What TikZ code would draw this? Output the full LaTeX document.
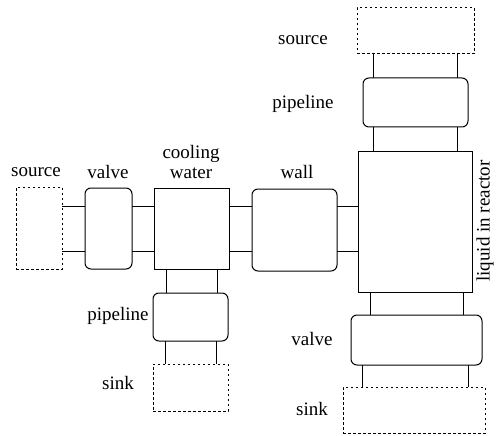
\documentclass[tikz,border=0pt]{standalone}
\usepackage{fontspec}
\setmainfont{Liberation Serif}
\begin{document}
\begin{tikzpicture}[x=1pt,y=-1pt,
  every node/.style={inner sep=0pt,outer sep=0pt},
  solid box/.style={draw,line width=1pt},
  rbox/.style={draw,line width=1pt,rounded corners=6pt},
  dbox/.style={draw,line width=1pt,dash pattern=on 2.5pt off 2.5pt},
  pipe/.style={line width=1pt},
  lbl/.style={font=\fontsize{19}{21}\selectfont,align=center}]
\useasboundingbox (0,0) rectangle (496,436);
% nodes
\node[dbox,minimum width=46pt,minimum height=82pt] (src1) at (39,228) {};
\node[rbox,minimum width=47pt,minimum height=81pt] (valve1) at (108.5,228.5) {};
\node[solid box,minimum width=75pt,minimum height=81pt] (cool) at (191.5,228.5) {};
\node[rbox,minimum width=85pt,minimum height=82pt] (wall) at (294.5,230) {};
\node[solid box,minimum width=114pt,minimum height=141pt] (reactor) at (415,221.5) {};
\node[dbox,minimum width=117pt,minimum height=46pt] (src2) at (415.5,31) {};
\node[rbox,minimum width=105pt,minimum height=49pt] (pipe2) at (415.5,102.5) {};
\node[rbox,minimum width=131pt,minimum height=50pt] (valve2) at (416.5,340) {};
\node[dbox,minimum width=142pt,minimum height=46pt] (sink2) at (414,410) {};
\node[rbox,minimum width=75pt,minimum height=48pt] (pipe1) at (190.5,317) {};
\node[dbox,minimum width=75pt,minimum height=47pt] (sink1) at (190.5,387.5) {};
% horizontal pipes
\foreach \a/\b in {src1/valve1,valve1/cool,cool/wall,wall/reactor}{
  \draw[pipe] (\a.east |- 0,206.5) -- (\b.west |- 0,206.5);
  \draw[pipe] (\a.east |- 0,251.5) -- (\b.west |- 0,251.5);
}
% vertical pipes
\draw[pipe] (cool.south -| 166,0) -- (pipe1.north -| 166,0);
\draw[pipe] (cool.south -| 217,0) -- (pipe1.north -| 217,0);
\draw[pipe] (pipe1.south -| 165,0) -- (sink1.north -| 165,0);
\draw[pipe] (pipe1.south -| 216,0) -- (sink1.north -| 216,0);
\draw[pipe] (src2.south -| 373,0) -- (pipe2.north -| 373,0);
\draw[pipe] (src2.south -| 457,0) -- (pipe2.north -| 457,0);
\draw[pipe] (pipe2.south -| 373,0) -- (reactor.north -| 373,0);
\draw[pipe] (pipe2.south -| 457,0) -- (reactor.north -| 457,0);
\draw[pipe] (reactor.south -| 370,0) -- (valve2.north -| 370,0);
\draw[pipe] (reactor.south -| 463,0) -- (valve2.north -| 463,0);
\draw[pipe] (valve2.south -| 362,0) -- (sink2.north -| 362,0);
\draw[pipe] (valve2.south -| 468,0) -- (sink2.north -| 468,0);
% labels
\node[lbl] (l1) at (36,172) {source};
\node[lbl] (l2) at (108,172) {valve};
\node[lbl] (l3a) at (191,154) {cooling};
\node[lbl] (l3b) at (191,173) {water};
\node[lbl] (l4) at (297,172) {wall};
\node[lbl] (l5) at (303,40) {source};
\node[lbl] (l6) at (303,104) {pipeline};
\node[lbl] (l7) at (118,316) {pipeline};
\node[lbl] (l8) at (118,383) {sink};
\node[lbl] (l9) at (312,339) {valve};
\node[lbl] (l10) at (312,409) {sink};
\node[lbl,rotate=90] (l11) at (485,221) {liquid in reactor};
\end{tikzpicture}
\end{document}
